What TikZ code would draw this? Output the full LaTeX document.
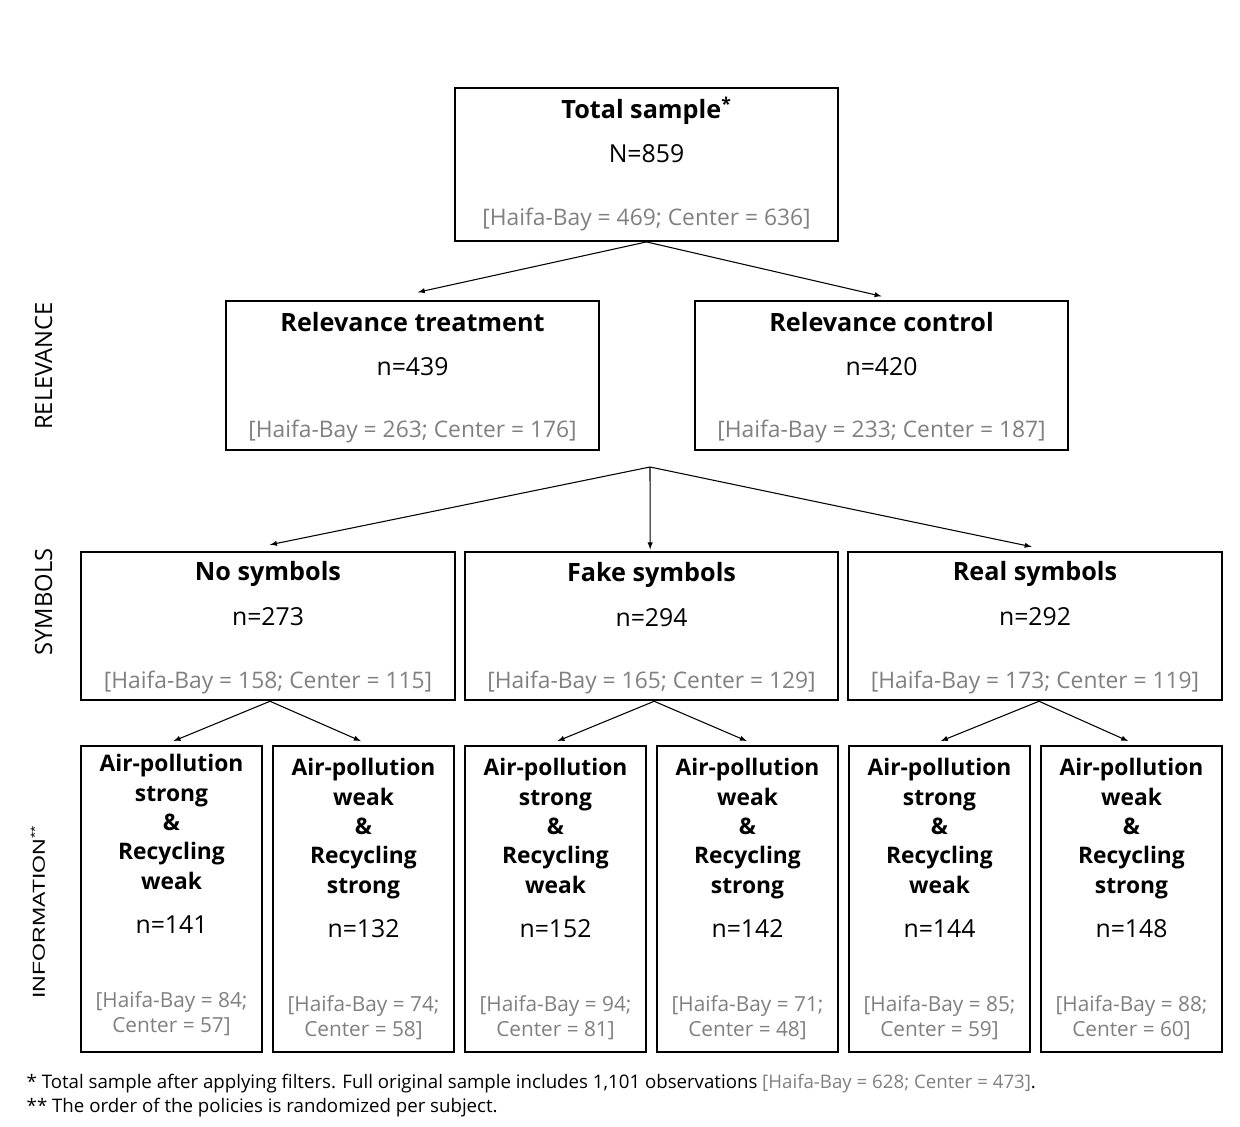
\documentclass[tikz,border=0pt]{standalone}
\usepackage{fontspec}
\setmainfont{Open Sans}
\newfontfamily\arialfont{Liberation Sans}
\usetikzlibrary{positioning,calc}

\begin{document}
\begin{tikzpicture}[
x=0.75pt, y=-0.75pt,
groupbox/.style={rectangle, draw, line width=1.4pt, inner sep=0pt, minimum width=280pt, minimum height=111.5pt},
infobox/.style={rectangle, draw, line width=1.4pt, inner sep=0pt, minimum width=135.75pt, minimum height=229.5pt},
title/.style={anchor=base, font=\bfseries\fontsize{18.9}{22}\selectfont, align=center},
infotitle/.style={anchor=base, font=\bfseries\fontsize{17.1}{22}\selectfont, align=center},
count/.style={anchor=base, font=\fontsize{18.6}{20}\selectfont},
split/.style={anchor=base, font=\fontsize{17.1}{19}\selectfont, text=black!50, align=center},
infosplit/.style={anchor=base, font=\fontsize{15.6}{18.75}\selectfont, text=black!50, align=center},
axis/.style={rotate=90, anchor=base, font=\fontsize{17.8}{19}\selectfont},
flow/.style={->, >=latex, line width=0.8pt},
note/.style={anchor=base west, font=\fontsize{14}{16}\selectfont}
]
	\useasboundingbox (0,0) rectangle (1240,1127);

	% total
	\node at (646.5,164.5) [groupbox, minimum width=287pt, minimum height=114.75pt] (total) {};
	\node at (646.5,119) [title] (totaltitle) {Total sample\textsuperscript{*}};
	\node at (646.5,163) [count] (totaln) {N=859};
	\node at (646.5,226) [split] (totalsplit) {[Haifa-Bay = 469; Center = 636]};

	% relevance
	\node at (412.5,375.5) [groupbox, minimum width=279.75pt] (reltreat) {};
	\node at (412.5,331) [title] (reltreattitle) {Relevance treatment};
	\node at (412.5,375) [count] (reltreatn) {n=439};
	\node at (412.5,437) [split] (reltreatsplit) {[Haifa-Bay = 263; Center = 176]};

	\node at (881.5,375.5) [groupbox, minimum width=279.75pt] (relcontrol) {};
	\node at (881.5,331) [title] (relcontroltitle) {Relevance control};
	\node at (881.5,375) [count] (relcontroln) {n=420};
	\node at (881.5,437) [split] (relcontrolsplit) {[Haifa-Bay = 233; Center = 187]};

	% symbols
	\node at (268,626) [groupbox] (nosym) {};
	\node at (268,580) [title] (nosymtitle) {No symbols};
	\node at (268,625) [count] (nosymn) {n=273};
	\node at (268,688) [split] (nosymsplit) {[Haifa-Bay = 158; Center = 115]};

	\node at (651.5,626) [groupbox] (fakesym) {};
	\node at (651.5,581) [title] (fakesymtitle) {Fake symbols};
	\node at (651.5,626) [count] (fakesymn) {n=294};
	\node at (651.5,688) [split] (fakesymsplit) {[Haifa-Bay = 165; Center = 129]};

	\node at (1035,626) [groupbox] (realsym) {};
	\node at (1035,580) [title] (realsymtitle) {Real symbols};
	\node at (1035,625) [count] (realsymn) {n=292};
	\node at (1035,688) [split] (realsymsplit) {[Haifa-Bay = 173; Center = 119]};

	% information (base = last line)
	\node at (171.5,899) [infobox] (info1) {};
	\node at (171.5,889) [infotitle] (info1title) {Air-pollution\\strong\\\&\\Recycling\\weak};
	\node at (171.5,933) [count] (info1n) {n=141};
	\node at (171.5,1032) [infosplit] (info1split) {[Haifa-Bay = 84;\\Center = 57]};

	\node at (363.5,899) [infobox] (info2) {};
	\node at (363.5,893) [infotitle] (info2title) {Air-pollution\\weak\\\&\\Recycling\\strong};
	\node at (363.5,937) [count] (info2n) {n=132};
	\node at (363.5,1036) [infosplit] (info2split) {[Haifa-Bay = 74;\\Center = 58]};

	\node at (555.5,899) [infobox] (info3) {};
	\node at (555.5,893) [infotitle] (info3title) {Air-pollution\\strong\\\&\\Recycling\\weak};
	\node at (555.5,937) [count] (info3n) {n=152};
	\node at (555.5,1036) [infosplit] (info3split) {[Haifa-Bay = 94;\\Center = 81]};

	\node at (747.5,899) [infobox] (info4) {};
	\node at (747.5,893) [infotitle] (info4title) {Air-pollution\\weak\\\&\\Recycling\\strong};
	\node at (747.5,937) [count] (info4n) {n=142};
	\node at (747.5,1036) [infosplit] (info4split) {[Haifa-Bay = 71;\\Center = 48]};

	\node at (939.5,899) [infobox] (info5) {};
	\node at (939.5,893) [infotitle] (info5title) {Air-pollution\\strong\\\&\\Recycling\\weak};
	\node at (939.5,937) [count] (info5n) {n=144};
	\node at (939.5,1036) [infosplit] (info5split) {[Haifa-Bay = 85;\\Center = 59]};

	\node at (1131.5,899) [infobox] (info6) {};
	\node at (1131.5,893) [infotitle] (info6title) {Air-pollution\\weak\\\&\\Recycling\\strong};
	\node at (1131.5,937) [count] (info6n) {n=148};
	\node at (1131.5,1036) [infosplit] (info6split) {[Haifa-Bay = 88;\\Center = 60]};

	% side labels
	\node at (52,366) [axis] (relaxis) {RELEVANCE};
	\node at (52,602) [axis] (symaxis) {SYMBOLS};
	\node at (45,912) [axis, font=\arialfont\fontsize{13}{15}\selectfont] (infoaxis) {\scalebox{1.33}[1]{INFORMATION\textsuperscript{**}}};

	% connectors
	\draw [flow] (total.south) -- ([xshift=4pt,yshift=6pt]reltreat.north);
	\draw [flow] (total.south) -- ([yshift=3pt]relcontrol.north);

	\coordinate (relsplit) at (650,467);
	\draw [flow] (relsplit) -- ([xshift=1.5pt,yshift=4.5pt]nosym.north);
	\draw [flow] (relsplit) -- ([xshift=-1pt,yshift=1pt]fakesym.north);
	\draw [flow] (relsplit) -- ([xshift=-2.5pt,yshift=3pt]realsym.north);

	\draw [flow] ([xshift=1.5pt]nosym.south) -- ([xshift=1.5pt,yshift=3pt]info1.north);
	\draw [flow] ([xshift=1.5pt]nosym.south) -- ([xshift=-2pt,yshift=3pt]info2.north);
	\draw [flow] ([xshift=2pt]fakesym.south) -- ([xshift=1.5pt,yshift=3pt]info3.north);
	\draw [flow] ([xshift=2pt]fakesym.south) -- ([xshift=-0.5pt,yshift=3pt]info4.north);
	\draw [flow] ([xshift=3pt]realsym.south) -- ([xshift=1pt,yshift=3pt]info5.north);
	\draw [flow] ([xshift=3pt]realsym.south) -- ([xshift=-2.5pt,yshift=3pt]info6.north);

	% footnotes
	\node at (22,1088) [note] (note1) {* Total sample after applying filters. Full original sample includes 1,101 observations {\color{black!50}[Haifa-Bay = 628; Center = 473]}.};
	\node at (22,1112) [note] (note2) {** The order of the policies is randomized per subject.};
\end{tikzpicture}
\end{document}
